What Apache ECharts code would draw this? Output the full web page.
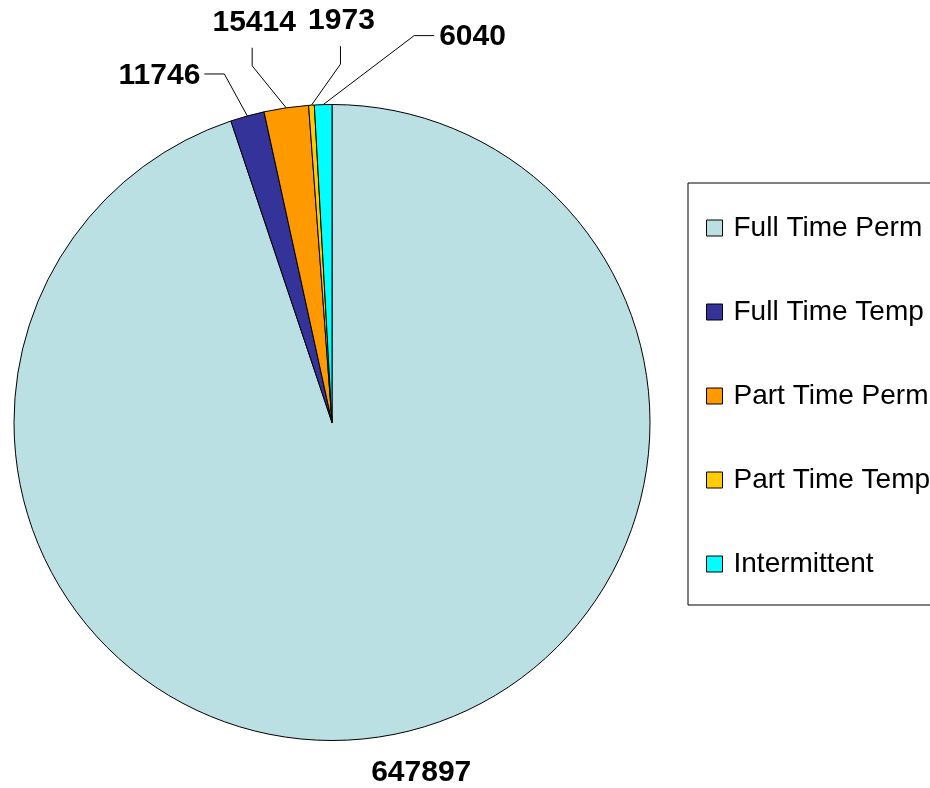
<!DOCTYPE html>
<html>
<head>
<meta charset="utf-8">
<script src="https://cdn.jsdelivr.net/npm/echarts@6/dist/echarts.min.js"></script>
<style>
html,body{margin:0;padding:0;background:#fff;}
#chart{width:930px;height:788px;}
</style>
</head>
<body>
<div id="chart"></div>
<script>
// ---- data ----
var categories = ['Full Time Perm', 'Full Time Temp', 'Part Time Perm', 'Part Time Temp', 'Intermittent'];
var values = [647897, 11746, 15414, 1973, 6040];
var colors = ['#BBE0E3', '#333399', '#FF9900', '#FFCC00', '#00FFFF'];

// label leader layout (offsets relative to the slice edge point computed by ECharts)
// elbow: [dx, dy] from edge; end: [dx, dy] from elbow; text anchor from line end
var labelGuides = [
  { text: [38, 36], align: 'center' },
  { elbow: [-23, -42], end: [-20, 0], text: [-4, 2], align: 'right' },
  { elbow: [-34, -42], end: [0, -18], text: [2, -25], align: 'center' },
  { elbow: [29, -41], end: [0, -18], text: [1, -25], align: 'center' },
  { elbow: [91, -69], end: [20, 0], text: [5, 1], align: 'left' }
];

var CX = 332, CY = 422.5, R = 318;
var total = values.reduce(function (a, b) { return a + b; }, 0);
function edgePoint(idx) {
  var start = 90, acc = 0;
  for (var i = 0; i < idx; i++) acc += values[i];
  var mid = (start - (acc + values[idx] / 2) / total * 360) * Math.PI / 180;
  return [CX + R * Math.cos(mid), CY - R * Math.sin(mid)];
}

var chart = echarts.init(document.getElementById('chart'), null, { renderer: 'canvas' });
var option = {
  backgroundColor: '#ffffff',
  animation: false,
  color: colors,
  legend: {
    orient: 'vertical',
    left: 688,
    top: 183,
    padding: [31, 40, 27, 18],
    itemGap: 56,
    itemWidth: 16,
    itemHeight: 16,
    icon: 'rect',
    borderColor: '#000000',
    borderWidth: 1,
    itemStyle: { borderColor: '#000000', borderWidth: 1 },
    textStyle: {
      fontFamily: 'Liberation Sans, Arial, sans-serif',
      fontSize: 28,
      lineHeight: 28,
      color: '#000000',
      padding: [0, 0, 0, 6]
    },
    data: categories
  },
  series: [{
    type: 'pie',
    center: [CX, CY],
    radius: [0, R],
    startAngle: 90,
    clockwise: true,
    avoidLabelOverlap: false,
    itemStyle: { borderColor: '#000000', borderWidth: 1 },
    emphasis: { disabled: true },
    label: {
      show: true,
      position: 'outside',
      formatter: '{c}',
      fontFamily: 'Liberation Sans, Arial, sans-serif',
      fontSize: 30,
      fontWeight: 'bold',
      color: '#000000'
    },
    labelLine: {
      show: true,
      length: 20,
      length2: 20,
      lineStyle: { color: '#000000', width: 1 }
    },
    labelLayout: function (params) {
      var g = labelGuides[params.dataIndex];
      var e = edgePoint(params.dataIndex);
      if (!g.elbow) {
        return { x: e[0] + g.text[0], y: e[1] + g.text[1], align: g.align, verticalAlign: 'middle' };
      }
      var el = [e[0] + g.elbow[0], e[1] + g.elbow[1]];
      var en = [el[0] + g.end[0], el[1] + g.end[1]];
      return {
        x: en[0] + g.text[0],
        y: en[1] + g.text[1],
        align: g.align,
        verticalAlign: 'middle',
        labelLinePoints: [e, el, en]
      };
    },
    data: categories.map(function (c, i) {
      var d = { name: c, value: values[i] };
      if (i === 0) d.labelLine = { show: false };
      return d;
    })
  }]
};
chart.setOption(option);
</script>
</body>
</html>
